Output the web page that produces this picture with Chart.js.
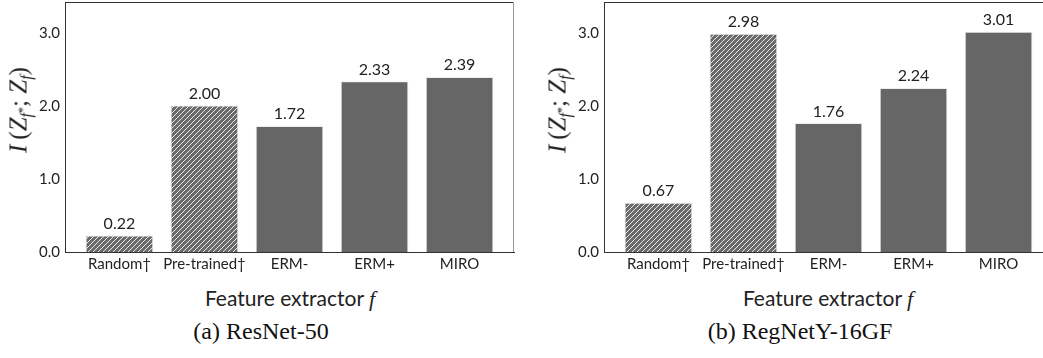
<!DOCTYPE html>
<html>
<head>
<meta charset="utf-8">
<script src="https://cdn.jsdelivr.net/npm/chart.js@4"></script>
<style>
  html, body { margin: 0; padding: 0; background: #fff; overflow: hidden; }
  body { width: 1043px; height: 358px; position: relative; }
  canvas { position: absolute; top: 0; }
  .ylab { position: absolute; font-family: "Liberation Serif", "DejaVu Serif", serif; font-size: 25px; color: #222;
          transform: translate(-50%, -50%) rotate(-90deg); white-space: nowrap; line-height: 1; }
  .ylab sub { font-size: 16px; vertical-align: -5px; }
  .ylab sup { font-size: 12px; vertical-align: 5px; }
  .xlab { position: absolute; font-family: Lato, "DejaVu Sans", sans-serif; font-size: 21px; color: #222;
          transform: translate(-50%, -50%); white-space: nowrap; }
  .xlab i { font-family: "Liberation Serif", serif; font-size: 22px; }
  .cap { position: absolute; font-family: "Liberation Serif", "Times New Roman", serif; font-size: 24px; color: #111;
         transform: translate(-50%, -50%); white-space: nowrap; }
</style>
</head>
<body>
<canvas id="chartA" width="515" height="280" style="left:0px"></canvas>
<canvas id="chartB" width="515" height="280" style="left:539px"></canvas>

<div class="ylab" style="left:20px; top:110px"><i>I</i>&thinsp;(<i>Z</i><sub><i>f</i><sup>*</sup></sub>; <i>Z</i><sub><i>f</i></sub>)</div>
<div class="ylab" style="left:559px; top:110px"><i>I</i>&thinsp;(<i>Z</i><sub><i>f</i><sup>*</sup></sub>; <i>Z</i><sub><i>f</i></sub>)</div>
<div class="xlab" style="left:290px; top:298px">Feature extractor <i>f</i></div>
<div class="xlab" style="left:828px; top:298px">Feature extractor <i>f</i></div>
<div class="cap" style="left:261px; top:331px">(a) ResNet-50</div>
<div class="cap" style="left:800px; top:331px">(b) RegNetY-16GF</div>

<script>
// data
const categories = ['Random\u2020', 'Pre-trained\u2020', 'ERM-', 'ERM+', 'MIRO'];
const resnetValues = [0.22, 2.00, 1.72, 2.33, 2.39];
const regnetValues = [0.67, 2.98, 1.76, 2.24, 3.01];
const hatched = [true, true, false, false, false];  // baselines marked with a dagger

const BAR_GRAY = '#666666';
const TEXT = '#222222';
const SANS = 'Lato, "DejaVu Sans", sans-serif';

// diagonal "////" hatch pattern
function makeHatch() {
    const c = document.createElement('canvas');
    c.width = 5; c.height = 5;
    const g = c.getContext('2d');
    g.fillStyle = '#6a6a6a';
    g.fillRect(0, 0, 5, 5);
    g.strokeStyle = 'rgba(255,255,255,0.85)';
    g.lineWidth = 1;
    g.beginPath();
    g.moveTo(-1, 6); g.lineTo(6, -1);
    g.moveTo(-1, 1); g.lineTo(1, -1);
    g.moveTo(4, 6); g.lineTo(6, 4);
    g.stroke();
    return g.createPattern(c, 'repeat');
}
const hatch = makeHatch();

// values written above the bars
const valueLabels = {
    id: 'valueLabels',
    afterDatasetsDraw(chart) {
        const ctx = chart.ctx;
        const meta = chart.getDatasetMeta(0);
        const vals = chart.data.datasets[0].data;
        ctx.save();
        ctx.font = '16px ' + SANS;
        ctx.fillStyle = TEXT;
        ctx.textAlign = 'center';
        ctx.textBaseline = 'bottom';
        meta.data.forEach((bar, i) => {
            ctx.fillText(vals[i].y.toFixed(2), bar.x, bar.y - 4);
        });
        ctx.restore();
    }
};

// top and right spines
const frame = {
    id: 'frame',
    afterDraw(chart) {
        const { left, right, top, bottom } = chart.chartArea;
        const ctx = chart.ctx;
        ctx.save();
        ctx.lineWidth = 1;
        ctx.strokeStyle = '#333';
        ctx.beginPath();
        ctx.moveTo(left, top + 0.5); ctx.lineTo(right, top + 0.5);
        ctx.stroke();
        ctx.strokeStyle = '#999';
        ctx.beginPath();
        ctx.moveTo(right - 0.5, top); ctx.lineTo(right - 0.5, bottom);
        ctx.stroke();
        ctx.restore();
    }
};

function makeChart(id, values) {
    const ctx = document.getElementById(id).getContext('2d');
    return new Chart(ctx, {
        type: 'bar',
        data: {
            datasets: [{
                data: values.map((v, i) => ({ x: i, y: v })),
                backgroundColor: hatched.map(h => h ? hatch : BAR_GRAY),
                borderColor: 'rgba(235,235,235,0.9)',
                borderWidth: 1,
                barThickness: 67
            }]
        },
        options: {
            responsive: false,
            animation: false,
            layout: { padding: { top: 2, right: 1, left: 0, bottom: 0 } },
            plugins: {
                legend: { display: false },
                tooltip: { enabled: false }
            },
            scales: {
                x: {
                    type: 'linear',
                    min: -0.64,
                    max: 4.64,
                    offset: false,
                    grid: { display: false, drawTicks: false },
                    border: { display: true, color: '#333', width: 1 },
                    ticks: {
                        stepSize: 1,
                        includeBounds: false,
                        autoSkip: false,
                        maxRotation: 0,
                        padding: 3,
                        color: TEXT,
                        font: { family: SANS, size: 15 },
                        callback: v => Number.isInteger(v) ? categories[v] : ''
                    },
                    afterFit(scale) {
                        scale.height = 28;
                        scale.paddingLeft = 0;
                        scale.paddingRight = 0;
                    }
                },
                y: {
                    min: 0,
                    max: 3.42,
                    grid: { display: false, drawTicks: false },
                    border: { display: true, color: '#333', width: 1 },
                    ticks: {
                        stepSize: 1,
                        includeBounds: false,
                        padding: 5,
                        color: TEXT,
                        font: { family: SANS, size: 15 },
                        callback: v => v.toFixed(1)
                    },
                    afterFit(scale) {
                        scale.width = 65;
                        scale.paddingTop = 0;
                        scale.paddingBottom = 0;
                    }
                }
            }
        },
        plugins: [valueLabels, frame]
    });
}

makeChart('chartA', resnetValues);
makeChart('chartB', regnetValues);
</script>
</body>
</html>
